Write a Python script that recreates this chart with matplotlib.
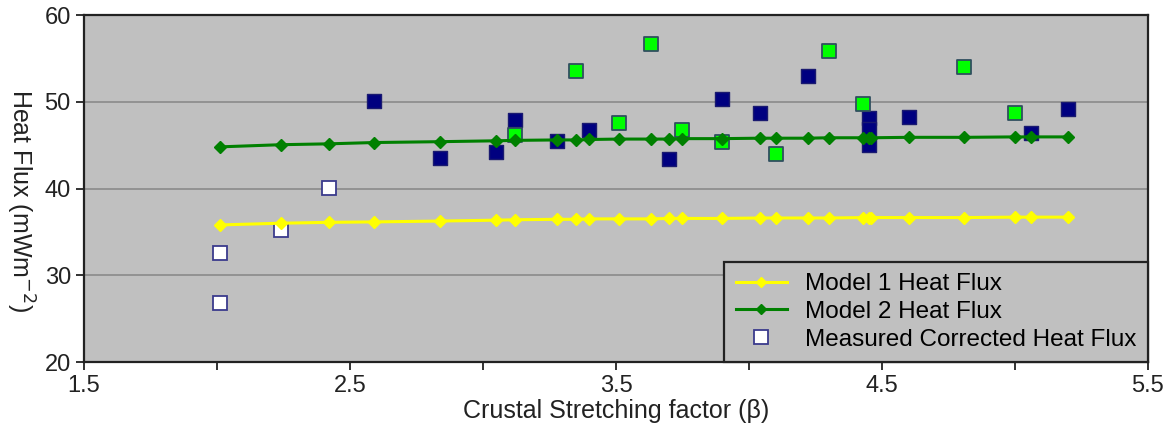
import matplotlib
matplotlib.use("Agg")
import matplotlib.pyplot as plt

plt.rcParams["font.family"] = ["Liberation Sans", "DejaVu Sans"]

# stretching factors where the two models were evaluated
beta_model = [2.01, 2.24, 2.42, 2.59, 2.84, 3.05, 3.12, 3.28, 3.35, 3.40,
              3.51, 3.63, 3.70, 3.75, 3.90, 4.04, 4.10, 4.22, 4.30, 4.43,
              4.45, 4.46, 4.60, 4.81, 5.00, 5.06, 5.20]
model1_flux = [35.8, 36.0, 36.1, 36.15, 36.25, 36.35, 36.4, 36.45, 36.45, 36.5,
               36.5, 36.5, 36.55, 36.55, 36.55, 36.6, 36.6, 36.6, 36.6, 36.65,
               36.65, 36.65, 36.65, 36.65, 36.7, 36.7, 36.7]
model2_flux = [44.8, 45.05, 45.15, 45.3, 45.4, 45.5, 45.55, 45.6, 45.6, 45.65,
               45.7, 45.7, 45.7, 45.75, 45.75, 45.8, 45.8, 45.8, 45.85, 45.85,
               45.85, 45.85, 45.9, 45.9, 45.95, 45.95, 45.95]

# measured corrected heat flux (open squares)
beta_open = [2.01, 2.01, 2.24, 2.42]
flux_open = [32.6, 26.8, 35.2, 40.1]

# measured values, navy group
beta_navy = [2.59, 2.84, 3.05, 3.12, 3.28, 3.40, 3.70, 3.90, 4.04, 4.22,
             4.45, 4.45, 4.45, 4.60, 5.06, 5.20]
flux_navy = [50.1, 43.5, 44.2, 47.9, 45.5, 46.8, 43.4, 50.3, 48.7, 53.0,
             48.1, 46.9, 45.0, 48.3, 46.4, 49.2]

# measured values, green group
beta_green = [3.12, 3.35, 3.51, 3.63, 3.75, 3.90, 4.10, 4.30, 4.43, 4.81, 5.00]
flux_green = [46.2, 53.5, 47.6, 56.7, 46.8, 45.4, 44.0, 55.8, 49.7, 54.0, 48.7]

x_major = [1.5, 2.5, 3.5, 4.5, 5.5]
x_minor = [2.0, 3.0, 4.0, 5.0]
y_major = [20, 30, 40, 50, 60]

fig = plt.figure(figsize=(11.67, 4.23), dpi=100)
ax = fig.add_axes([0.072, 0.1442, 0.9117, 0.8203])
ax.set_facecolor("#c0c0c0")

ax.scatter(beta_navy, flux_navy, marker="s", s=110, color="#000080",
           edgecolors="#1a1a70", linewidths=1, zorder=3)
ax.scatter(beta_green, flux_green, marker="s", s=110, color="#00ff00",
           edgecolors="#2f4f5f", linewidths=1.3, zorder=3)
ax.plot(beta_model, model1_flux, color="#ffff00", lw=2.2, marker="D",
        ms=6.5, label="Model 1 Heat Flux", zorder=4)
ax.plot(beta_model, model2_flux, color="#008000", lw=2.2, marker="D",
        ms=6.5, label="Model 2 Heat Flux", zorder=4)
ax.plot(beta_open, flux_open, ls="none", marker="s", ms=10,
        mfc="white", mec="#3a3a8c", mew=1.3,
        label="Measured Corrected Heat Flux", zorder=3)

ax.set_xlim(1.5, 5.5)
ax.set_ylim(20, 60)
ax.set_xticks(x_major)
ax.set_xticklabels([f"{v:.1f}" for v in x_major])
ax.set_xticks(x_minor, minor=True)
ax.set_yticks(y_major)
ax.tick_params(which="both", direction="out", length=5.5, width=1.3,
               labelsize=17, colors="#222222")
ax.tick_params(axis="x", pad=4)
ax.tick_params(axis="y", pad=4)

ax.grid(axis="y", color="#8a8a8a", lw=1.2)
ax.set_axisbelow(True)
for side in ["left", "bottom", "top", "right"]:
    ax.spines[side].set_linewidth(1.6)
    ax.spines[side].set_color("#222222")

ax.set_xlabel("Crustal Stretching factor (β)", fontsize=18, color="#222222",
              labelpad=1)
# y label reads top to bottom
fig.text(0.0175, 0.527, "Heat Flux (mWm$^{-2}$)", fontsize=18,
         color="#222222", rotation=-90, ha="center", va="center")

leg = ax.legend(loc="lower right", borderaxespad=0, fontsize=17.5,
                frameon=True, fancybox=False, handlelength=2.1,
                handletextpad=0.75, labelspacing=0.23, borderpad=0.47)
leg.get_frame().set_facecolor("#c0c0c0")
leg.get_frame().set_edgecolor("#222222")
leg.get_frame().set_linewidth(1.6)
leg.get_frame().set_alpha(1)
leg.legend_handles[0].set_markersize(5)
leg.legend_handles[1].set_markersize(5)

fig.savefig("out.png", dpi=100)
